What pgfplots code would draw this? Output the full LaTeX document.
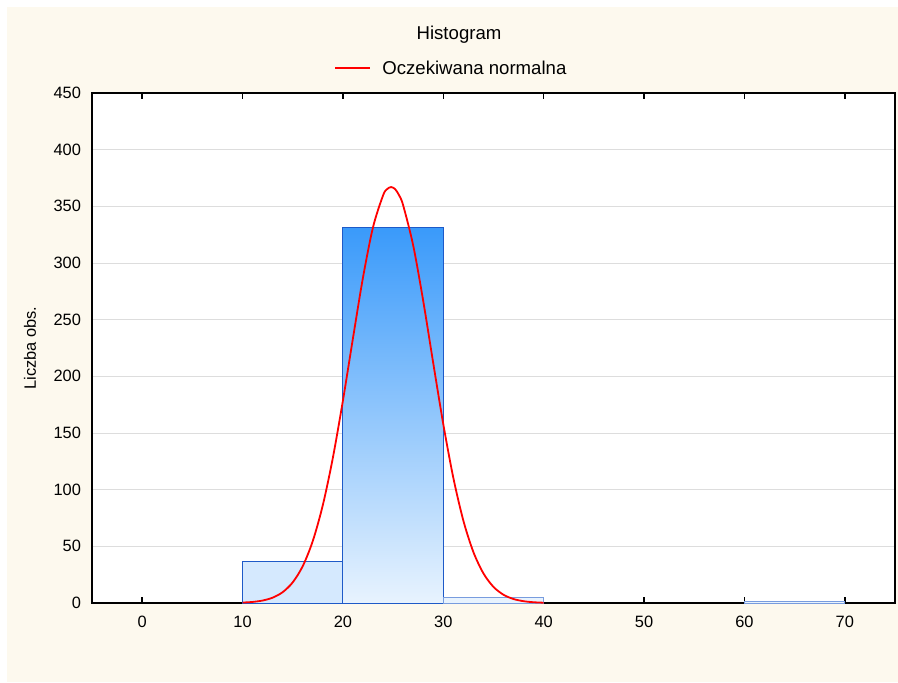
\documentclass[border=0pt]{standalone}
\usepackage{pgfplots}
\pgfplotsset{compat=1.18}
\usepackage{fontspec}
\setmainfont{Liberation Sans}
\definecolor{cream}{HTML}{FDF9EE}
\definecolor{bartop}{RGB}{58,154,250}
\definecolor{barbot}{RGB}{232,243,254}
\definecolor{barsmall}{RGB}{213,233,254}
\definecolor{baredge}{RGB}{30,90,200}
\definecolor{gridgray}{HTML}{DDDDDD}
\begin{document}
\begin{tikzpicture}
\fill[white] (0,0) rectangle (449pt,341pt);
\fill[cream] (3.5pt,0) rectangle (449pt,337.5pt);
\begin{axis}[
  at={(46pt,39.5pt)}, anchor=south west,
  scale only axis, width=401.5pt, height=255pt,
  xmin=-5, xmax=75, ymin=0, ymax=450,
  xtick={0,10,...,70}, ytick={0,50,...,450},
  tick align=inside, major tick length=3pt,
  ytick style={draw=none},
  xtick style={black, line width=0.7pt},
  ymajorgrids, grid style={gridgray, line width=0.5pt},
  axis line style={line width=0.8pt},
  axis background/.style={fill=white},
  tick label style={font=\fontsize{8.2}{10}\selectfont},
  /pgf/number format/assume math mode=true,
  yticklabel style={xshift=-2pt},
  xticklabel style={yshift=-3pt},
  clip=true,
]
\addplot[ybar interval, draw=baredge, fill=barsmall, line width=0.5pt] coordinates {(10,37) (20,37)};
\addplot[ybar interval, draw=baredge, top color=bartop, bottom color=barbot, line width=0.5pt] coordinates {(20,331) (30,331)};
\addplot[ybar interval, draw=baredge!60, fill=barbot, line width=0.5pt] coordinates {(30,5) (40,5)};
\addplot[ybar interval, draw=baredge!60, fill=barbot, line width=0.5pt] coordinates {(60,1) (70,1)};
\addplot[red, line width=0.9pt, smooth, no marks] coordinates {
(10,0.39) (11,0.95) (12,2.19) (13,4.73) (14,9.59) (15,18.25) (16,32.6) (17,54.8)
(18,86.5) (19,128.3) (20,178.7) (21,233.7) (22,287.3) (23,331.7) (24,359.7)
(24.4,365.2) (24.8,367) (25.2,365.2) (25.6,359.7) (26,350.9) (27,315.5) (28,266.5)
(29,211.5) (30,157.7) (31,110.4) (32,72.6) (33,44.9) (34,26.1) (35,14.2) (36,7.28)
(37,3.5) (38,1.59) (39,0.67) (40,0.27)
};
\end{axis}
\node[font=\fontsize{8.2}{10}\selectfont, rotate=90] at (15pt,167pt) {Liczba obs.};
\node[font=\fontsize{9.3}{11}\selectfont] at (229.5pt,323.5pt) {Histogram};
\draw[red, line width=0.9pt] (167.5pt,307pt) -- (185pt,307pt);
\node[font=\fontsize{9.3}{11}\selectfont, anchor=west, inner sep=0pt] at (191pt,307pt) {Oczekiwana normalna};
\pgfresetboundingbox
\useasboundingbox (0,0) rectangle (449pt,341pt);
\end{tikzpicture}
\end{document}
